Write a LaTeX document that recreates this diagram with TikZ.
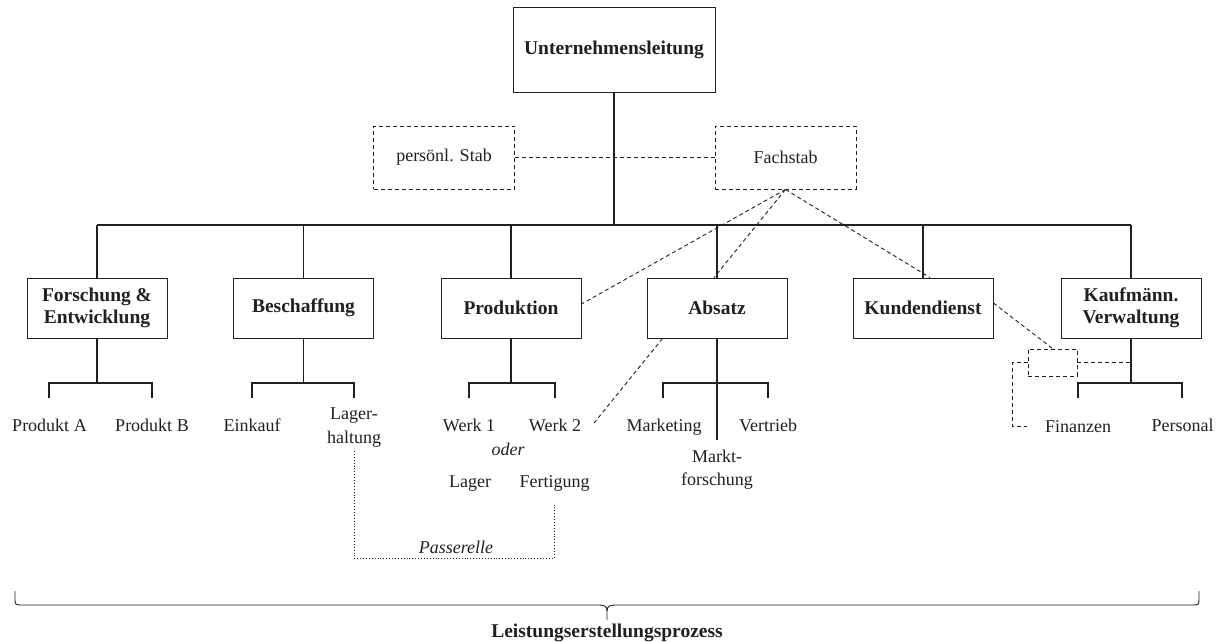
\documentclass[tikz,border=0pt]{standalone}
\usepackage{fontspec}
\setmainfont{Liberation Serif}
\usetikzlibrary{calc}
\definecolor{ink}{HTML}{231F20}
\begin{document}
\begin{tikzpicture}[x=1pt,y=-1pt,
  every node/.style={text=ink},
  box/.style={draw=ink, line width=0.9pt, minimum width=140pt, minimum height=60pt, inner sep=2pt, align=center, font=\fontsize{19.5}{22}\selectfont\bfseries},
  stabbox/.style={draw=ink, line width=0.9pt, dash pattern=on 4pt off 3pt, minimum width=141pt, minimum height=63pt, font=\fontsize{18}{22}\selectfont},
  lbl/.style={inner sep=0pt, align=center, font=\fontsize{18}{23}\selectfont},
  spine/.style={draw=ink, line width=1.8pt},
  conn/.style={draw=ink, line width=1.1pt},
  dconn/.style={draw=ink, line width=0.9pt, dash pattern=on 4pt off 3pt},
  pconn/.style={draw=ink, line width=0.9pt, dotted}
]
\useasboundingbox (0,0) rectangle (1223,641);

% top
\node[box, minimum width=202pt, minimum height=85pt] (ul) at (614,49.5) {Unternehmensleitung};
\node[stabbox] (ps) at (444,157.5) {persönl. Stab};
\node[stabbox] (fs) at (785.5,157.5) {Fachstab};

\coordinate (hub) at (614,225);
\coordinate (busL) at (97,225);
\coordinate (busR) at (1131,225);

% departments
\node[box] (fe) at (97,308) {Forschung \&\\Entwicklung};
\node[box] (be) at (303.5,308) {Beschaffung};
\node[box] (pr) at (511,308) {Produktion};
\node[box] (ab) at (717,308) {Absatz};
\node[box] (kd) at (923,308) {Kundendienst};
\node[box] (kv) at (1131,308) {Kaufmänn.\\Verwaltung};

% spine and bus
\path[spine] (ul.south) -- (hub);
\path[spine] (busL) -- (busR);
\foreach \n in {fe,be,pr,ab,kd,kv}{
  \path[conn] (\n.north |- hub) -- (\n.north);
}

% staff dashed links
\path[dconn] (ps.east) -- (fs.west);
\path[dconn] (fs.south) -- ([yshift=4pt]pr.east);
\path[dconn] (fs.south) -- ([xshift=-3pt]ab.north);
\path[dconn] (fs.south) -- ([xshift=7pt]kd.north);

% sub-trees
\foreach \n/\l/\r in {fe/49/152, be/252/354, pr/469/555, ab/663/768, kv/1078/1182}{
  \path[conn] (\n.south) -- (\n.south |- 0,383);
  \path[conn] (\l,398) -- (\l,383) -- (\r,383) -- (\r,398);
}
\path[conn] (ab.south) -- (717,440);

% labels
\node[lbl, anchor=base] (pa) at (49.5,431) {Produkt A};
\node[lbl, anchor=base] (pb) at (152,431) {Produkt B};
\node[lbl, anchor=base] (ek) at (252,431) {Einkauf};
\node[lbl, anchor=base] (lh1) at (354,419) {Lager-};
\node[lbl, anchor=base] (lh) at (354,443) {haltung};
\node[lbl, anchor=base] (w1) at (469,431) {Werk 1};
\node[lbl, anchor=base] (w2) at (555,431) {Werk 2};
\node[lbl, anchor=base, font=\fontsize{18}{23}\selectfont\itshape] (od) at (508,455) {oder};
\node[lbl, anchor=base] (lg) at (470,487) {Lager};
\node[lbl, anchor=base] (fg) at (554.5,487) {Fertigung};
\node[lbl, anchor=base] (mk) at (664,431) {Marketing};
\node[lbl, anchor=base] (vt) at (768,431) {Vertrieb};
\node[lbl, anchor=base] (mf1) at (717,462) {Markt-};
\node[lbl, anchor=base] (mf) at (717,485) {forschung};
\node[lbl, anchor=base] (fi) at (1078,432) {Finanzen};
\node[lbl, anchor=base] (pe) at (1182.5,431) {Personal};

% Absatz -- Werk 2 dashed
\coordinate (w2end) at (594,423);
\path[dconn] ([xshift=16pt]ab.south west) -- (w2end);

% Kundendienst -- small box -- Kaufm. Verwaltung
\node[draw=ink, line width=0.9pt, dash pattern=on 4pt off 3pt, minimum width=49pt, minimum height=27pt, inner sep=0pt] (sb) at (1052.5,362.5) {};
\path[dconn] ([yshift=5pt]kd.east) -- (sb.north);
\coordinate (kvj) at (1131,362.5);
\path[dconn] (sb.east) -- (kvj);
\coordinate (fiend) at (1027,426);
\path[dconn] (sb.west) -- (1012,362.5) -- (1012,426) -- (fiend);

% Passerelle
\coordinate (pS) at (354,451);
\coordinate (pE) at (554,505);
\path[pconn] (pS) -- (354,558) -- (554,558) -- (pE);
\node[lbl, anchor=base, font=\fontsize{18}{23}\selectfont\itshape] (pas) at (456,553) {Passerelle};

% brace
\coordinate (tip) at (607,620);
\draw[draw=ink, line width=0.9pt] (15,591) -- (15,600) .. controls (15,604) and (16,605) .. (20,605) -- (599,605) .. controls (604,605) and (607,606) .. (607,611) -- (tip);
\draw[draw=ink, line width=0.9pt] (1199,591) -- (1199,600) .. controls (1199,604) and (1198,605) .. (1194,605) -- (615,605) .. controls (610,605) and (607,606) .. (607,611);
\node[lbl, anchor=base, font=\fontsize{19.5}{22}\selectfont\bfseries] (lp) at (607,637) {Leistungserstellungsprozess};
\end{tikzpicture}
\end{document}
